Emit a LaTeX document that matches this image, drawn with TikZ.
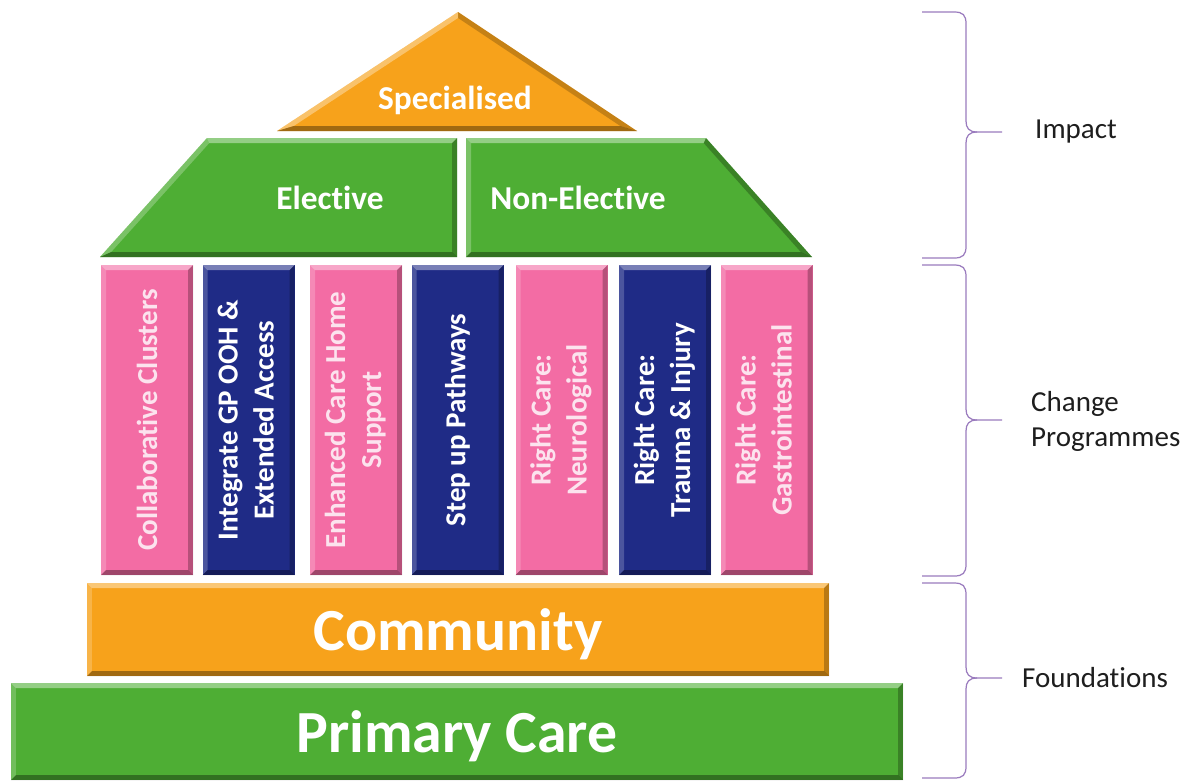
\documentclass[tikz,border=0pt]{standalone}
\usepackage{fontspec}
\setmainfont{Carlito}[Ligatures=NoCommon]
\definecolor{roofgreen}{HTML}{4EAE34}
\definecolor{toporange}{HTML}{F7A21B}
\definecolor{pillarpink}{HTML}{F36CA4}
\definecolor{pillarnavy}{HTML}{1F2B86}
\definecolor{pinktext}{HTML}{FCE3EE}
\definecolor{bracepurple}{HTML}{9A7BBE}
\definecolor{labelgray}{HTML}{1E1E1E}
\newcommand{\bevw}{1mm}
\tikzset{
  bevel/.style={path picture={
      \fill[white,opacity=.4] (path picture bounding box.north west) -- (path picture bounding box.north east) -- ([shift={(-\bevw,-\bevw)}]path picture bounding box.north east) -- ([shift={(\bevw,-\bevw)}]path picture bounding box.north west) -- cycle;
      \fill[white,opacity=.2] (path picture bounding box.north west) -- ([shift={(\bevw,-\bevw)}]path picture bounding box.north west) -- ([shift={(\bevw,\bevw)}]path picture bounding box.south west) -- (path picture bounding box.south west) -- cycle;
      \fill[black,opacity=.25] (path picture bounding box.north east) -- ([shift={(-\bevw,-\bevw)}]path picture bounding box.north east) -- ([shift={(-\bevw,\bevw)}]path picture bounding box.south east) -- (path picture bounding box.south east) -- cycle;
      \fill[black,opacity=.35] (path picture bounding box.south west) -- ([shift={(\bevw,\bevw)}]path picture bounding box.south west) -- ([shift={(-\bevw,\bevw)}]path picture bounding box.south east) -- (path picture bounding box.south east) -- cycle;
  }},
  pillar/.style={bevel,inner sep=0pt,minimum width=18.4mm,minimum height=62mm,text=white,font=\bfseries\fontsize{16.5}{20.5}\selectfont},
  slab/.style={bevel,inner sep=0pt,text=white,text depth=0pt,font=\bfseries\fontsize{34}{40}\selectfont},
  rooftext/.style={text=white,font=\bfseries\fontsize{19}{23}\selectfont},
  brace/.style={bracepurple,line width=0.7pt},
  side/.style={anchor=west,text=labelgray,align=left,font=\fontsize{16.5}{20}\selectfont}
}
\begin{document}
\begin{tikzpicture}[x=0.2mm,y=-0.2mm]
			\fill[white] (0,0) rectangle (1200,780);

			\fill[toporange] (458,12)-- (277,131)-- (637,131)-- cycle;
			\fill[white,opacity=.35] (458,12)-- (277,131)-- (293.7,126)-- (458,18)-- cycle;
			\fill[black,opacity=.2] (458,12)-- (458,18)-- (620.3,126)-- (637,131)-- cycle;
			\fill[black,opacity=.35] (277,131)-- (293.7,126)-- (620.3,126)-- (637,131)-- cycle;

			\fill[roofgreen] (207,138)-- (457,138)-- (457,257)-- (100,257)-- cycle;
			\fill[white,opacity=.4] (207,138)-- (457,138)-- (452,143)-- (209.3,143)-- cycle;
			\fill[white,opacity=.25] (207,138)-- (209.3,143)-- (111.2,252)-- (100,257)-- cycle;
			\fill[black,opacity=.25] (457,138)-- (457,257)-- (452,252)-- (452,143)-- cycle;
			\fill[black,opacity=.35] (100,257)-- (111.2,252)-- (452,252)-- (457,257)-- cycle;

			\fill[roofgreen] (466,138)-- (706,138)-- (812,257)-- (466,257)-- cycle;
			\fill[white,opacity=.4] (466,138)-- (706,138)-- (703.7,143)-- (471,143)-- cycle;
			\fill[white,opacity=.25] (466,138)-- (471,143)-- (471,252)-- (466,257)-- cycle;
			\fill[black,opacity=.25] (706,138)-- (812,257)-- (800.8,252)-- (703.7,143)-- cycle;
			\fill[black,opacity=.35] (466,257)-- (471,252)-- (800.8,252)-- (812,257)-- cycle;

			\node[rooftext] (spec) at (455,100) {Specialised};
			\node[rooftext] (elec) at (330,198) {Elective};
			\node[rooftext] (nonelec) at (578,198) {Non-Elective};

			\node[pillar,fill=pillarpink,text=pinktext] (clusters) at (147,420) {\rotatebox{90}{Collaborative Clusters}};
			\node[pillar,fill=pillarnavy] (gpooh) at (248.5,420) {\rotatebox{90}{\begin{tabular}{@{}c@{}}Integrate GP OOH \&\\Extended Access\end{tabular}}};
			\node[pillar,fill=pillarpink,text=pinktext] (carehome) at (356,420) {\rotatebox{90}{\begin{tabular}{@{}c@{}}Enhanced Care Home\\Support\end{tabular}}};
			\node[pillar,fill=pillarnavy] (stepup) at (457.5,420) {\rotatebox{90}{Step up Pathways}};
			\node[pillar,fill=pillarpink,text=pinktext] (neuro) at (561.5,420) {\rotatebox{90}{\begin{tabular}{@{}c@{}}Right Care:\\Neurological\end{tabular}}};
			\node[pillar,fill=pillarnavy] (trauma) at (665,420) {\rotatebox{90}{\begin{tabular}{@{}c@{}}Right Care:\\Trauma \& Injury\end{tabular}}};
			\node[pillar,fill=pillarpink,text=pinktext] (gastro) at (766.5,420) {\rotatebox{90}{\begin{tabular}{@{}c@{}}Right Care:\\Gastrointestinal\end{tabular}}};

			\node[slab,fill=toporange,minimum width=148.4mm,minimum height=18.6mm] (community) at (458,629.5) {Community};
			\node[slab,fill=roofgreen,minimum width=178.4mm,minimum height=19.4mm] (primary) at (457,731.5) {Primary Care};

			\draw[brace] (922,12)-- (954,12) .. controls (963,12) and (966,15) .. (966,24)-- (966,121) .. controls (966,128) and (969,132) .. (977,132)-- (1002,132);
			\draw[brace] (977,132) .. controls (969,132) and (966,136) .. (966,143)-- (966,246) .. controls (966,255) and (963,258) .. (954,258)-- (922,258);
			\draw[brace] (922,265)-- (954,265) .. controls (963,265) and (966,268) .. (966,277)-- (966,409) .. controls (966,416) and (969,420) .. (977,420)-- (1002,420);
			\draw[brace] (977,420) .. controls (969,420) and (966,424) .. (966,431)-- (966,564) .. controls (966,573) and (963,576) .. (954,576)-- (922,576);
			\draw[brace] (922,583)-- (954,583) .. controls (963,583) and (966,586) .. (966,595)-- (966,667) .. controls (966,674) and (969,678) .. (977,678)-- (1002,678);
			\draw[brace] (977,678) .. controls (969,678) and (966,682) .. (966,689)-- (966,766) .. controls (966,775) and (963,778) .. (954,778)-- (922,778);

			\node[side] (impact) at (1029,132) {Impact};
			\node[side] (change) at (1025,421) {Change\\Programmes};
			\node[side] (found) at (1016,678) {Foundations};
		\end{tikzpicture}
\end{document}
